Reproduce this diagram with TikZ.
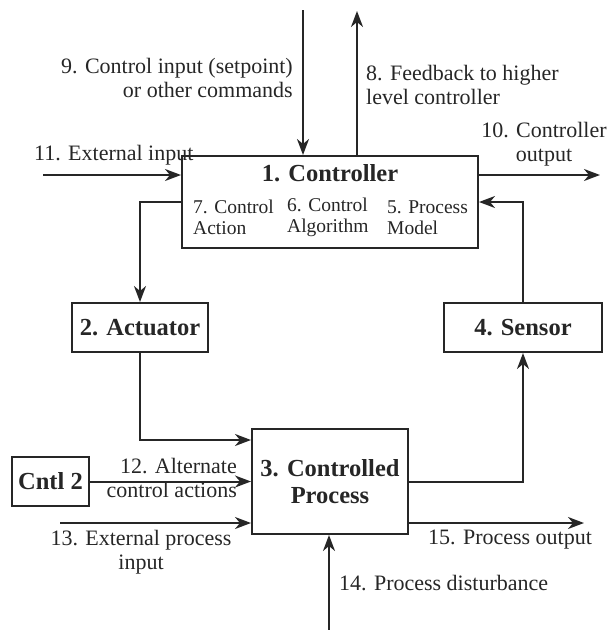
\documentclass[tikz,border=0pt]{standalone}
\usepackage{fontspec}
\setmainfont{Liberation Serif}
\usetikzlibrary{arrows.meta}
\definecolor{ink}{gray}{0.15}

\begin{document}
\begin{tikzpicture}[x=1pt,y=-1pt,
  every node/.style={text=ink},
  box/.style={draw=ink, line width=2pt, inner sep=0pt},
  title/.style={font=\fontsize{24.5}{27}\selectfont\bfseries, inner sep=0pt},
  lbl/.style={font=\fontsize{22}{24.5}\selectfont, inner sep=0pt},
  sublbl/.style={font=\fontsize{19.5}{21}\selectfont, inner sep=0pt, anchor=west, align=left},
  arr/.style={draw=ink, line width=2pt,
    -{Stealth[length=16pt,width=12pt,inset=5pt]}}]
\useasboundingbox (0,0) rectangle (608,630);

% blocks
\node[box, minimum width=296pt, minimum height=92pt] (ctrl) at (330,202) {};
\node[title] (ctrlT) at (330,173) {1. Controller};
\node[sublbl] (cact) at (193,217.5) {7. Control\\Action};
\node[sublbl] (calg) at (287,217.5) {6. Control\\Algorithm};
\node[sublbl] (cmod) at (387,217.5) {5. Process\\Model};

\node[box, minimum width=136pt, minimum height=49pt, title] (act) at (140,327.5) {2. Actuator};
\node[box, minimum width=158pt, minimum height=49pt, title] (sens) at (523,327.5) {4. Sensor};
\node[box, minimum width=156pt, minimum height=105pt, title, align=center] (proc) at (330,481.5) {3. Controlled\\Process};
\node[box, minimum width=77pt, minimum height=49pt, title] (cnt) at (50.5,481.5) {Cntl 2};

% free ends of the outer signals
\coordinate (in9) at (303,10);
\coordinate (out8) at (357,11);
\coordinate (in11) at (43,175);
\coordinate (out10) at (600,175);
\coordinate (in13) at (60,523);
\coordinate (out15) at (584,523);
\coordinate (in14) at (329,630);

% signal flow
\draw[arr] (in9) -- (in9 |- ctrl.north);
\draw[arr] (out8 |- ctrl.north) -- (out8);
\draw[arr] (in11) -- (in11 -| ctrl.west);
\draw[arr] (out10 -| ctrl.east) -- (out10);
\draw[arr] (ctrl.west) -- (ctrl.west -| act.north) -- (act.north);
\draw[arr] (sens.north) -- (sens.north |- ctrl.east) -- (ctrl.east);
\draw[arr] (act.south) |- ([yshift=41.5pt]proc.west);
\draw[arr] (cnt.east) -- (proc.west);
\draw[arr] (proc.east) -| (sens.south);
\draw[arr] (in13) -- (in13 -| proc.west);
\draw[arr] (out15 -| proc.east) -- (out15);
\draw[arr] (in14) -- (in14 |- proc.south);

% labels
\node[lbl, anchor=east, align=right] (l9) at (293,78) {9. Control input (setpoint)\\or other commands};
\node[lbl, anchor=west, align=left] (l8) at (366,85) {8. Feedback to higher\\level controller};
\node[lbl, align=center] (l10) at (544,144) {10. Controller\\output};
\node[lbl, anchor=west] (l11) at (34,155) {11. External input};
\node[lbl, anchor=east, align=right] (l12) at (237,478) {12. Alternate\\control actions};
\node[lbl, align=center] (l13) at (141,552) {13. External process\\input};
\node[lbl, anchor=west] (l15) at (428,540) {15. Process output};
\node[lbl, anchor=west] (l14) at (339,583) {14. Process disturbance};
\end{tikzpicture}
\end{document}
